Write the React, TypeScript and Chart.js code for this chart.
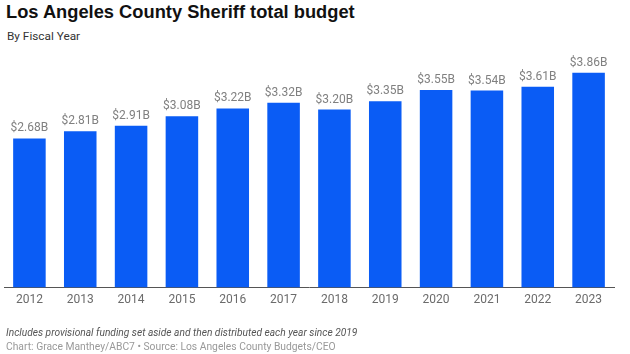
import React, { useEffect, useRef } from "react";
import { Chart, registerables } from "chart.js";

Chart.register(...registerables);

const years = ["2012", "2013", "2014", "2015", "2016", "2017", "2018", "2019", "2020", "2021", "2022", "2023"];
const budgets = [2.68, 2.81, 2.91, 3.08, 3.22, 3.32, 3.2, 3.35, 3.55, 3.54, 3.61, 3.86];
const valueLabels = ["$2.68B", "$2.81B", "$2.91B", "$3.08B", "$3.22B", "$3.32B", "$3.20B", "$3.35B", "$3.55B", "$3.54B", "$3.61B", "$3.86B"];

const titleText = "Los Angeles County Sheriff total budget";
const subtitleText = "By Fiscal Year";
const noteText = "Includes provisional funding set aside and then distributed each year since 2019";
const sourceText = "Chart: Grace Manthey/ABC7 • Source: Los Angeles County Budgets/CEO";

const BAR_COLOR = "#0a5cf5";

const valueLabelPlugin = {
  id: "valueLabels",
  afterDatasetsDraw(chart: any) {
    const ctx = chart.ctx;
    const meta = chart.getDatasetMeta(0);
    ctx.save();
    ctx.font = "12px Roboto";
    ctx.fillStyle = "#808080";
    ctx.textAlign = "center";
    ctx.textBaseline = "alphabetic";
    meta.data.forEach((bar: any, i: number) => {
      ctx.fillText(valueLabels[i], bar.x, bar.y - 7);
    });
    ctx.restore();
  },
};

export default function App() {
  const canvasRef = useRef<HTMLCanvasElement | null>(null);

  useEffect(() => {
    const prevMargin = document.body.style.margin;
    document.body.style.margin = "0";
    const chart = new Chart(canvasRef.current as HTMLCanvasElement, {
      type: "bar",
      data: {
        labels: years,
        datasets: [
          {
            data: budgets,
            backgroundColor: BAR_COLOR,
            borderWidth: 0,
            categoryPercentage: 1,
            barPercentage: 0.64,
          },
        ],
      },
      options: {
        animation: false,
        responsive: false,
        maintainAspectRatio: false,
        layout: { padding: { top: 65, bottom: 42, left: 4, right: 16 } },
        plugins: {
          legend: { display: false },
          tooltip: { enabled: false },
          title: { display: false },
        },
        scales: {
          x: {
            grid: { display: false, drawTicks: false },
            border: { display: true, color: "#555555", width: 1 },
            ticks: { color: "#6b6b6b", font: { family: "Roboto", size: 12 }, padding: 5, maxRotation: 0 },
          },
          y: {
            display: false,
            min: 0,
            max: 4,
          },
        },
      },
      plugins: [valueLabelPlugin],
    });
    return () => {
      chart.destroy();
      document.body.style.margin = prevMargin;
    };
  }, []);

  return (
    <div style={{ position: "fixed", left: 0, top: 0, width: 630, height: 354, background: "#fff", overflow: "hidden" }}>
      <div
        style={{
          position: "absolute",
          left: 6,
          top: 2.6,
          fontFamily: "'Liberation Sans', Arial, sans-serif",
          fontWeight: 700,
          fontSize: 18.3,
          lineHeight: "18px",
          color: "#111",
          whiteSpace: "nowrap",
        }}
      >
        {titleText}
      </div>
      <div
        style={{
          position: "absolute",
          left: 7,
          top: 31,
          fontFamily: "Roboto, sans-serif",
          fontSize: 11.8,
          lineHeight: "11px",
          color: "#333",
          whiteSpace: "nowrap",
        }}
      >
        {subtitleText}
      </div>
      <canvas ref={canvasRef} width={630} height={354} style={{ position: "absolute", left: 0, top: 0 }} />
      <div
        style={{
          position: "absolute",
          left: 6,
          top: 328,
          fontFamily: "Roboto, sans-serif",
          fontStyle: "italic",
          fontSize: 10.2,
          lineHeight: "10px",
          color: "#555",
          whiteSpace: "nowrap",
        }}
      >
        {noteText}
      </div>
      <div
        style={{
          position: "absolute",
          left: 6,
          top: 342,
          fontFamily: "Roboto, sans-serif",
          fontSize: 10.3,
          lineHeight: "10px",
          color: "#999",
          whiteSpace: "nowrap",
        }}
      >
        {sourceText}
      </div>
    </div>
  );
}
